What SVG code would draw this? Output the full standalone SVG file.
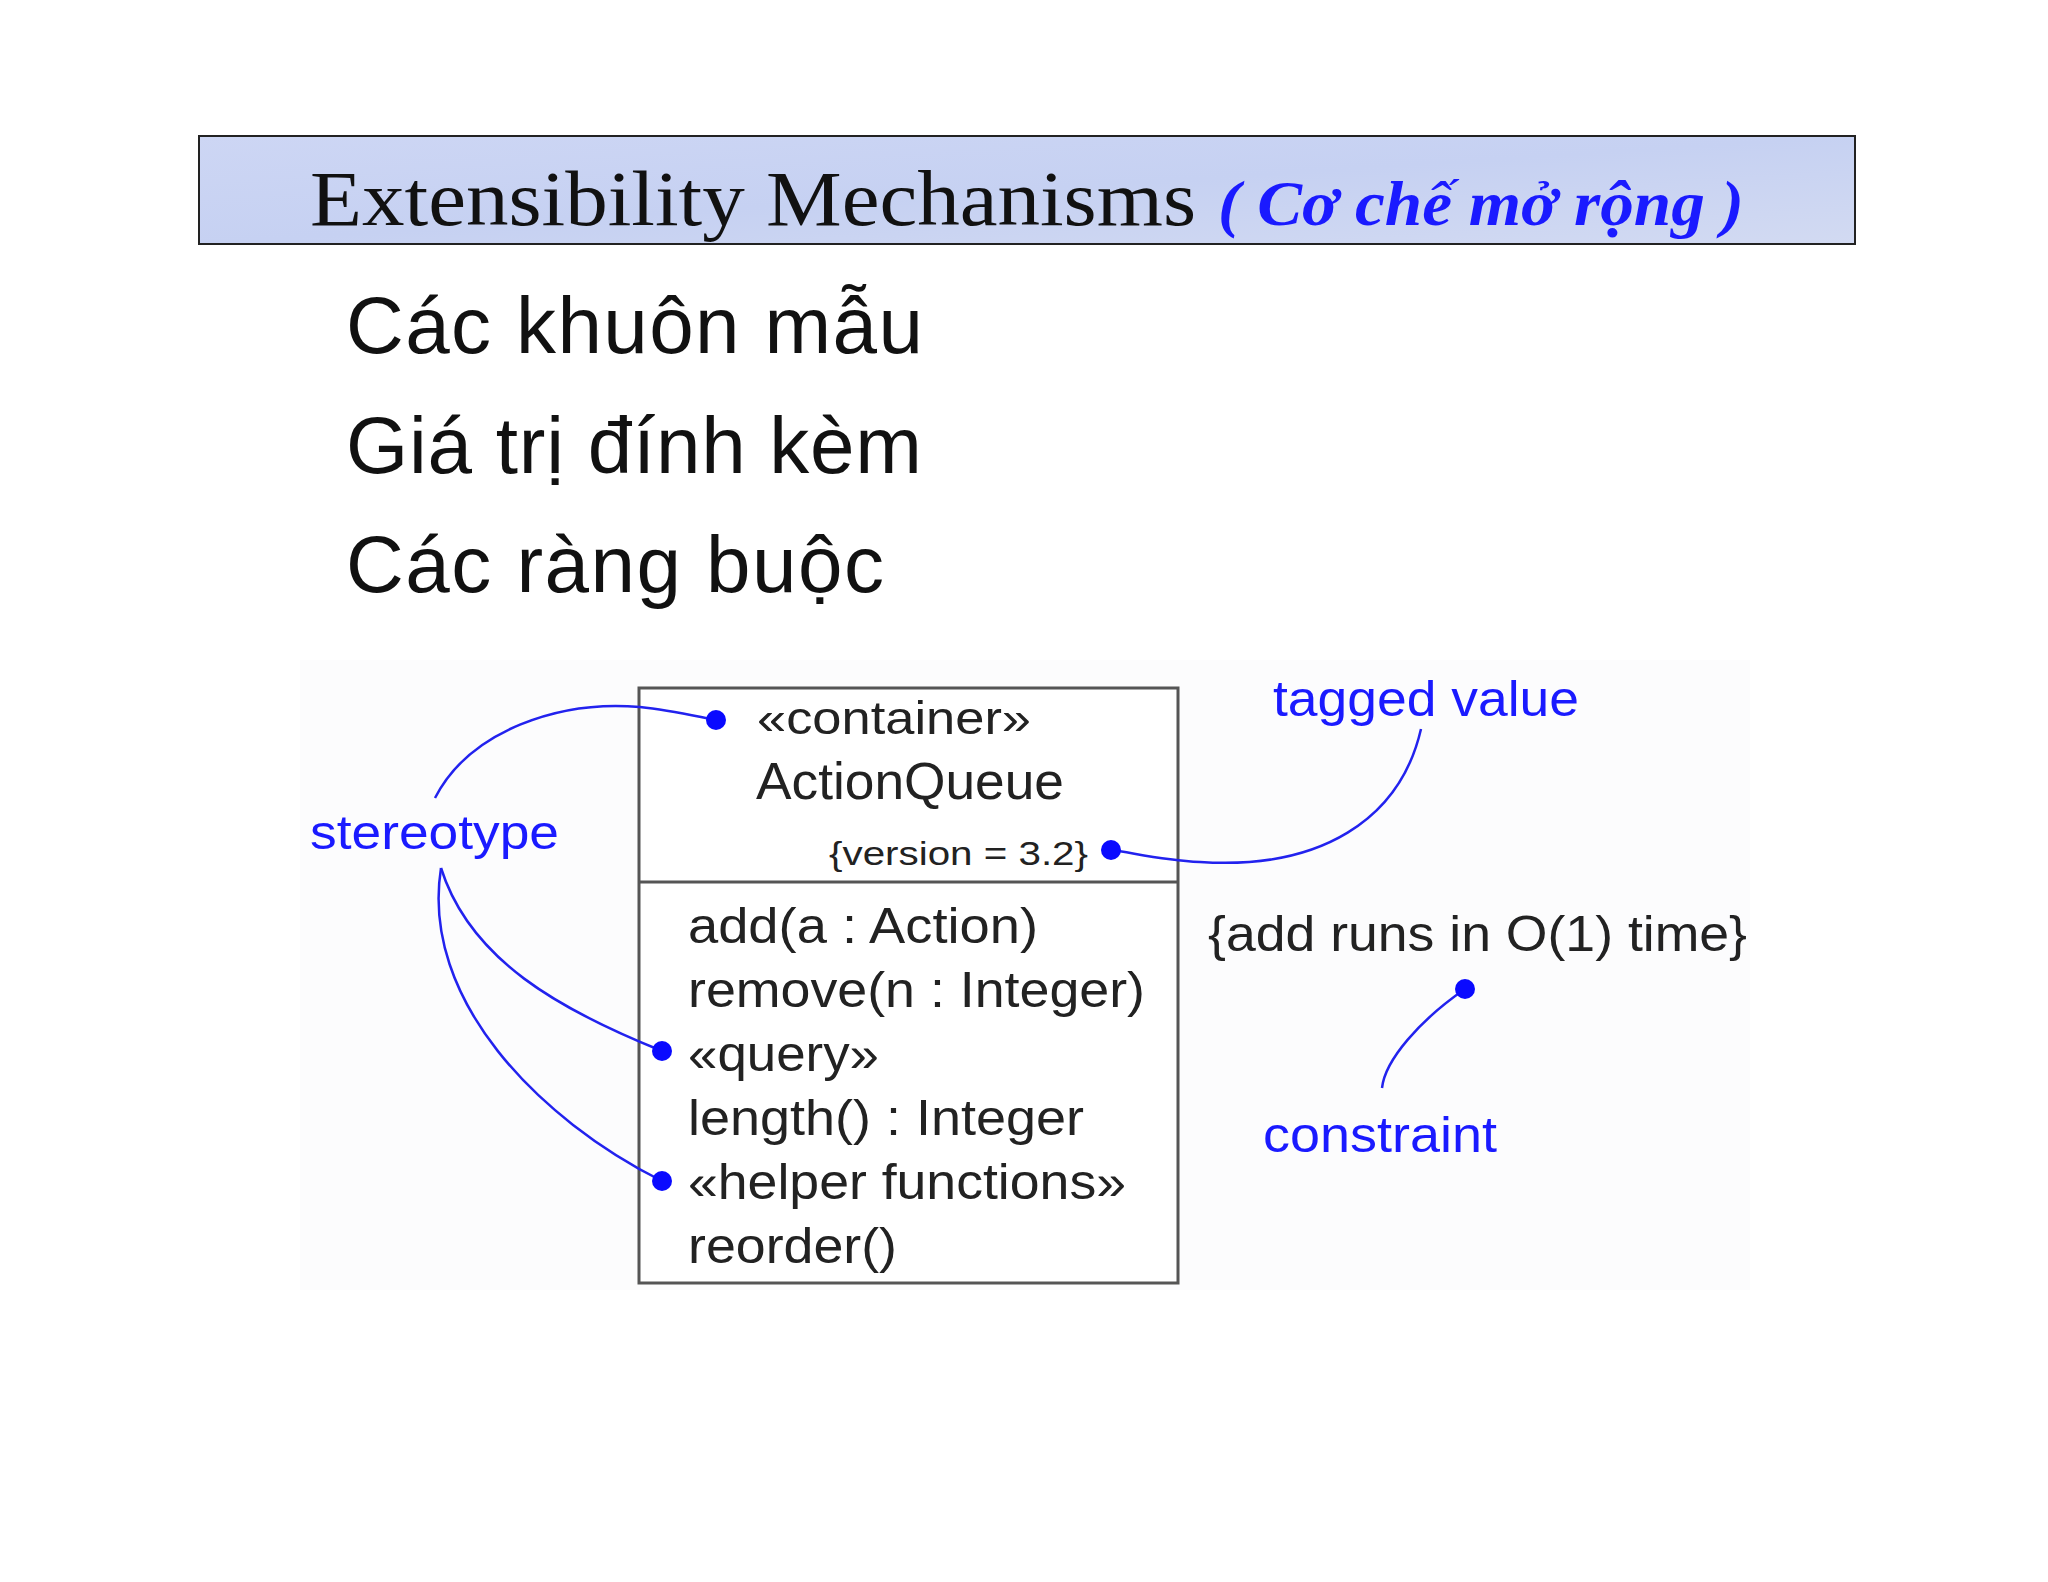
<svg xmlns="http://www.w3.org/2000/svg" width="2048" height="1582" viewBox="0 0 2048 1582">
<defs>
<linearGradient id="tg" x1="0" y1="0" x2="1" y2="1">
<stop offset="0" stop-color="#cdd6f4"/><stop offset="0.5" stop-color="#c6d1f2"/><stop offset="1" stop-color="#d2daf2"/>
</linearGradient>
</defs>
<style>
.sans{font-family:"Liberation Sans",Arial,sans-serif}
.blue{fill:#1a1aff}
.op{font-size:50px;fill:#222}
.conn path{fill:none;stroke:#2222ee;stroke-width:2.5}
.dot{fill:#0a0aff}
</style>
<rect width="2048" height="1582" fill="#fff"/>
<g id="title">
<rect x="199" y="136" width="1656" height="108" fill="url(#tg)" stroke="#222" stroke-width="2"/>
<text x="310" y="225" font-family="'Liberation Serif','Times New Roman',serif" font-size="78" fill="#111" textLength="886" lengthAdjust="spacingAndGlyphs">Extensibility Mechanisms</text>
<text x="1218" y="225" font-family="'Liberation Serif','Times New Roman',serif" font-size="64" font-style="italic" font-weight="bold" fill="#1a1aff" textLength="526" lengthAdjust="spacingAndGlyphs">( Cơ chế mở rộng )</text>
</g>
<g id="bullets" class="sans" font-size="80" fill="#111">
<text x="346" y="353" textLength="577">Các khuôn mẫu</text>
<text x="346" y="473" textLength="576">Giá trị đính kèm</text>
<text x="346" y="592" textLength="538">Các ràng buộc</text>
</g>
<rect x="300" y="660" width="1450" height="630" fill="#fcfcfd"/>
<g id="class" class="sans">
<rect x="639" y="688" width="539" height="595" fill="#fff" stroke="#555" stroke-width="3"/>
<line x1="639" y1="882" x2="1178" y2="882" stroke="#555" stroke-width="3"/>
<text x="757" y="734" font-size="46" fill="#222" textLength="274" lengthAdjust="spacingAndGlyphs">«container»</text>
<text x="756" y="799" font-size="52" fill="#222" textLength="308" lengthAdjust="spacingAndGlyphs">ActionQueue</text>
<text x="829" y="865" font-size="34" fill="#222" textLength="259" lengthAdjust="spacingAndGlyphs">{version = 3.2}</text>
<text x="688" y="943" class="op" textLength="350" lengthAdjust="spacingAndGlyphs">add(a : Action)</text>
<text x="688" y="1007" class="op" textLength="457" lengthAdjust="spacingAndGlyphs">remove(n : Integer)</text>
<text x="688" y="1071" class="op" textLength="191" lengthAdjust="spacingAndGlyphs">«query»</text>
<text x="688" y="1135" class="op" textLength="396" lengthAdjust="spacingAndGlyphs">length() : Integer</text>
<text x="688" y="1199" class="op" textLength="438" lengthAdjust="spacingAndGlyphs">«helper functions»</text>
<text x="688" y="1263" class="op" textLength="209" lengthAdjust="spacingAndGlyphs">reorder()</text>
</g>
<g id="labels" class="sans">
<text x="310" y="849" font-size="48" class="blue" textLength="249" lengthAdjust="spacingAndGlyphs">stereotype</text>
<text x="1273" y="716" font-size="50" class="blue" textLength="306" lengthAdjust="spacingAndGlyphs">tagged value</text>
<text x="1208" y="951" font-size="50" fill="#222" textLength="539" lengthAdjust="spacingAndGlyphs">{add runs in O(1) time}</text>
<text x="1263" y="1152" font-size="50" class="blue" textLength="234" lengthAdjust="spacingAndGlyphs">constraint</text>
</g>
<g id="connectors" class="conn">
<path d="M435,798 C470,730 560,700 640,707 C670,710 695,716 716,720"/>
<path d="M441,868 C470,960 560,1010 662,1051"/>
<path d="M441,868 C420,1000 540,1120 662,1181"/>
<path d="M1421,729 C1400,820 1320,870 1200,862 C1160,860 1130,852 1111,850"/>
<path d="M1465,989 C1420,1020 1385,1060 1382,1088"/>
<circle class="dot" cx="716" cy="720" r="10"/>
<circle class="dot" cx="662" cy="1051" r="10"/>
<circle class="dot" cx="662" cy="1181" r="10"/>
<circle class="dot" cx="1111" cy="850" r="10"/>
<circle class="dot" cx="1465" cy="989" r="10"/>
</g>
</svg>
